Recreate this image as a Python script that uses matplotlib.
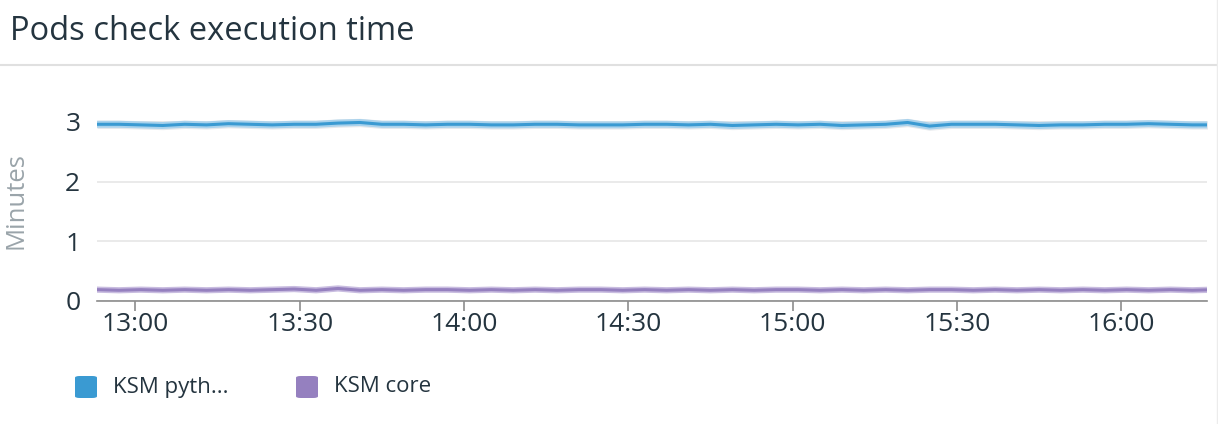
import pandas as pd
import matplotlib
matplotlib.use("Agg")
import matplotlib.pyplot as plt
import matplotlib.dates as mdates
from matplotlib.lines import Line2D
from matplotlib.patches import FancyBboxPatch

plt.rcParams["font.family"] = ["Open Sans", "DejaVu Sans"]

# samples every 4 minutes, 12:53 -> 16:17
times = pd.date_range("2024-01-01 12:53", periods=52, freq="4min")

ksm_python = [2.96, 2.96, 2.95, 2.94, 2.96, 2.95, 2.97, 2.96, 2.95, 2.96,
              2.96, 2.98, 2.99, 2.96, 2.96, 2.95, 2.96, 2.96, 2.95, 2.95,
              2.96, 2.96, 2.95, 2.95, 2.95, 2.96, 2.96, 2.95, 2.96, 2.94,
              2.95, 2.96, 2.95, 2.96, 2.94, 2.95, 2.96, 2.99, 2.93, 2.96,
              2.96, 2.96, 2.95, 2.94, 2.95, 2.95, 2.96, 2.96, 2.97, 2.96,
              2.95, 2.95]

ksm_core = [0.19, 0.18, 0.19, 0.18, 0.19, 0.18, 0.19, 0.18, 0.19, 0.20,
            0.18, 0.21, 0.18, 0.19, 0.18, 0.19, 0.19, 0.18, 0.19, 0.18,
            0.19, 0.18, 0.19, 0.19, 0.18, 0.19, 0.18, 0.19, 0.18, 0.19,
            0.18, 0.19, 0.19, 0.18, 0.19, 0.18, 0.19, 0.18, 0.19, 0.19,
            0.18, 0.19, 0.18, 0.19, 0.18, 0.19, 0.18, 0.19, 0.18, 0.19,
            0.18, 0.19]

series_names = ["KSM pyth...", "KSM core"]
series_colors = ["#3a9ad2", "#9580bf"]

text_dark = "#24343f"

fig = plt.figure(figsize=(12.18, 4.24), dpi=100)
ax = fig.add_axes([97 / 1218, 123 / 424, 1110 / 1218, 200 / 424])

# light band around the blue line
ax.fill_between(times, [v - 0.07 for v in ksm_python], [v + 0.07 for v in ksm_python],
                color="#e6e9ec", linewidth=0, zorder=2)
ax.plot(times, ksm_python, color="#a9d2ec", linewidth=5, zorder=3)
ax.plot(times, ksm_python, color=series_colors[0], linewidth=2.2, zorder=4)
ax.plot(times, ksm_core, color="#c9bde0", linewidth=4.5, zorder=3)
ax.plot(times, ksm_core, color=series_colors[1], linewidth=2.2, zorder=4)

ax.set_ylim(0, 3.35)
ax.set_xlim(pd.Timestamp("2024-01-01 12:53"), pd.Timestamp("2024-01-01 16:15:40"))
ax.set_yticks([0, 1, 2, 3])
ax.xaxis.set_major_locator(mdates.MinuteLocator(byminute=[0, 30]))
ax.xaxis.set_major_formatter(mdates.DateFormatter("%H:%M"))

ax.grid(axis="y", color="#e6e6e6", linewidth=1.2, zorder=1)
for side in ["top", "right", "left"]:
    ax.spines[side].set_visible(False)
ax.spines["bottom"].set_color("#8c8c8c")
ax.spines["bottom"].set_linewidth(1.2)
ax.tick_params(axis="x", length=7, width=1.2, color="#8c8c8c", labelsize=19,
               labelcolor=text_dark, pad=1)
ax.tick_params(axis="y", length=0, labelsize=19, labelcolor=text_dark, pad=12)
ax.set_ylabel("Minutes", fontsize=18.5, color="#9aa4aa", va="center")
ax.yaxis.set_label_coords(-81 / 1110, 0.5)

fig.text(10 / 1218, 1 - 31 / 424, "Pods check execution time", fontsize=23.5,
         color=text_dark, va="center", ha="left")
fig.add_artist(Line2D([0, 1], [1 - 65 / 424, 1 - 65 / 424], color="#e0e0e0",
                      linewidth=1.5, transform=fig.transFigure))
fig.add_artist(Line2D([1217 / 1218, 1217 / 1218], [0, 1], color="#ececec",
                      linewidth=1, transform=fig.transFigure))

# legend
legend_x = [75, 296]
for name, col, lx in zip(series_names, series_colors, legend_x):
    fig.add_artist(FancyBboxPatch((lx / 1218, 1 - 398 / 424), 22 / 1218, 22 / 424,
                                  boxstyle="round,pad=0,rounding_size=0.004",
                                  facecolor=col, edgecolor="none",
                                  transform=fig.transFigure))
    fig.text((lx + 38) / 1218, 1 - 387 / 424, name, fontsize=16, color=text_dark,
             va="center", ha="left")

fig.savefig("out.png", dpi=100)
